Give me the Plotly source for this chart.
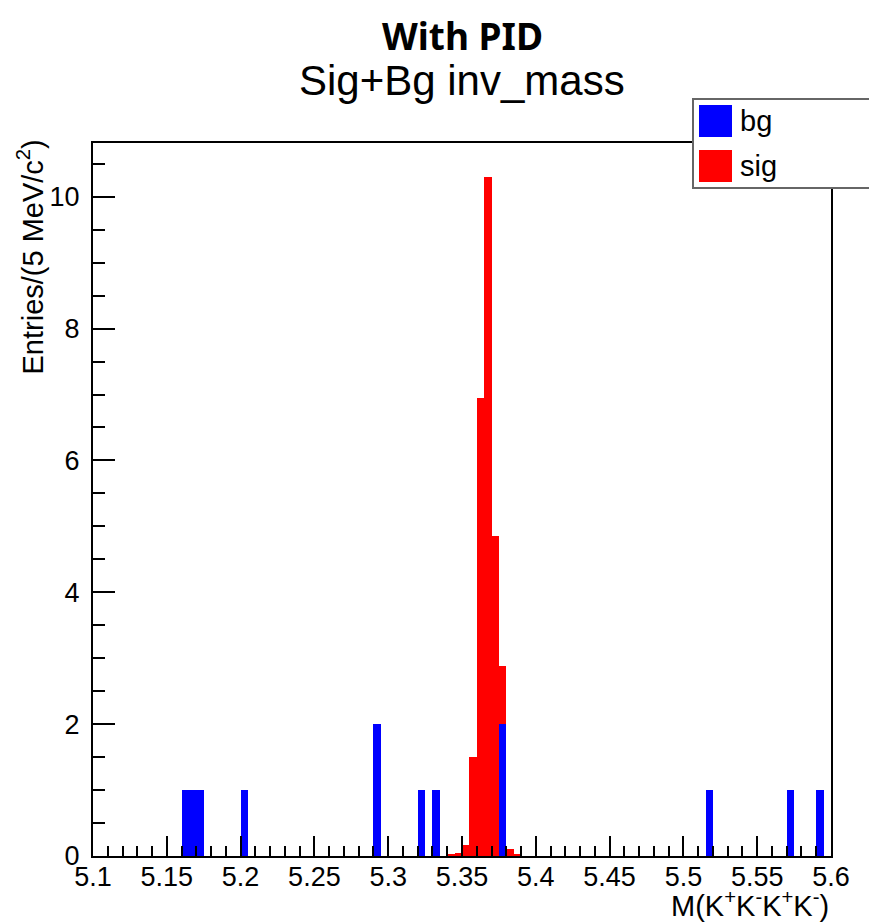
import plotly.graph_objects as go

# histogram contents, 5 MeV bins (low edge of each filled bin)
bin_width = 0.005
bg_low_edges = [5.160, 5.165, 5.170, 5.200, 5.290, 5.320, 5.330, 5.375, 5.515, 5.570, 5.590]
bg_counts = [1, 1, 1, 1, 2, 1, 1, 2, 1, 1, 1]

sig_low_edges = [5.340, 5.345, 5.350, 5.355, 5.360, 5.365, 5.370, 5.375, 5.380, 5.385]
sig_counts = [0.02, 0.05, 0.17, 1.50, 6.95, 10.30, 4.85, 2.88, 0.10, 0.03]

x_tick_labels = ["5.1", "5.15", "5.2", "5.25", "5.3", "5.35", "5.4", "5.45", "5.5", "5.55", "5.6"]
y_tick_labels = ["0", "2", "4", "6", "8", "10"]

series_names = ["bg", "sig"]
series_colors = ["#0000ff", "#ff0000"]

# frame position in page pixels (877 x 923 window); the page body adds an 8px margin
PAGE_W, PAGE_H, BODY = 877, 923, 8
L, R, T, B = 93, 831, 143, 856
W, H = R - L, B - T
FIG_W, FIG_H = PAGE_W - BODY, PAGE_H - BODY


def px_x(p):
    return (p - L) / W


def px_y(p):
    return (B - p) / H


def centers(edges):
    return [e + bin_width / 2 for e in edges]


fig = go.Figure()

# sig first so bg bars sit on top of it, as in the original
fig.add_trace(go.Bar(
    x=centers(sig_low_edges), y=sig_counts, width=bin_width,
    name=series_names[1], marker=dict(color=series_colors[1], line=dict(width=0)),
    showlegend=False,
))
fig.add_trace(go.Bar(
    x=centers(bg_low_edges), y=bg_counts, width=bin_width,
    name=series_names[0], marker=dict(color=series_colors[0], line=dict(width=0)),
    showlegend=False,
))

font_root = "Liberation Sans, Arial, sans-serif"
ymax = 1.05 * max(sig_counts)

fig.update_xaxes(
    range=[5.1, 5.6],
    tickmode="array",
    tickvals=[float(t) for t in x_tick_labels],
    ticktext=x_tick_labels,
    ticks="inside", ticklen=20, tickwidth=1.5, tickcolor="black",
    minor=dict(dtick=0.01, tick0=5.1, ticks="inside", ticklen=10, tickwidth=1.5, tickcolor="black"),
    showgrid=False, zeroline=False,
    showline=True, linecolor="black", linewidth=2, mirror=True,
    ticklabelstandoff=-4,
    tickfont=dict(family=font_root, size=27, color="black"),
)
fig.update_yaxes(
    range=[0, ymax],
    tickmode="array",
    tickvals=[float(t) for t in y_tick_labels],
    ticktext=y_tick_labels,
    ticks="inside", ticklen=22, tickwidth=1.5, tickcolor="black",
    minor=dict(dtick=0.5, tick0=0, ticks="inside", ticklen=12, tickwidth=1.5, tickcolor="black"),
    showgrid=False, zeroline=False,
    showline=True, linecolor="black", linewidth=2, mirror=True,
    ticklabelstandoff=6,
    tickfont=dict(family=font_root, size=27, color="black"),
)

annotations = [
    dict(text="<b>With PID</b>", x=0.5, y=px_y(BODY), xref="paper", yref="paper",
         xanchor="center", yanchor="top", showarrow=False,
         font=dict(family="Noto Sans, sans-serif", size=37, color="black")),
    dict(text="Sig+Bg inv_mass", x=0.5, y=px_y(80), xref="paper", yref="paper",
         xanchor="center", yanchor="middle", showarrow=False,
         font=dict(family=font_root, size=42, color="black")),
    dict(text="Entries/(5 MeV/c<sup>2</sup>)", x=px_x(30), y=px_y(138), xref="paper", yref="paper",
         xanchor="center", yanchor="top", textangle=-90, showarrow=False,
         font=dict(family=font_root, size=29, color="black")),
    dict(text="M(K<sup>+</sup>K<sup>-</sup>K<sup>+</sup>K<sup>-</sup>)", x=1.0, y=px_y(904),
         xref="paper", yref="paper", xanchor="right", yanchor="middle", showarrow=False,
         font=dict(family=font_root, size=29, color="black")),
]

# ROOT-style legend box, drawn by hand so the colour boxes keep their size
shapes = [
    dict(type="rect", xref="paper", yref="paper", layer="above",
         x0=px_x(693), x1=px_x(876), y0=px_y(188), y1=px_y(99),
         fillcolor="white", line=dict(color="#666666", width=2)),
]
for i, (name, color) in enumerate(zip(series_names, series_colors)):
    top = 105 + i * 45
    shapes.append(dict(type="rect", xref="paper", yref="paper", layer="above",
                       x0=px_x(699), x1=px_x(732), y0=px_y(top + 32), y1=px_y(top),
                       fillcolor=color, line=dict(width=0)))
    annotations.append(dict(text=name, x=px_x(738), y=px_y(top + 16), xref="paper", yref="paper",
                            xanchor="left", yanchor="middle", showarrow=False,
                            font=dict(family=font_root, size=29, color="black")))

fig.update_layout(
    width=FIG_W, height=FIG_H, autosize=False,
    margin=dict(l=L - BODY, r=FIG_W - (R - BODY), t=T - BODY, b=FIG_H - (B - BODY)),
    barmode="overlay", bargap=0,
    plot_bgcolor="white", paper_bgcolor="white",
    annotations=annotations, shapes=shapes,
    showlegend=False,
)

fig.write_html("out.html")
